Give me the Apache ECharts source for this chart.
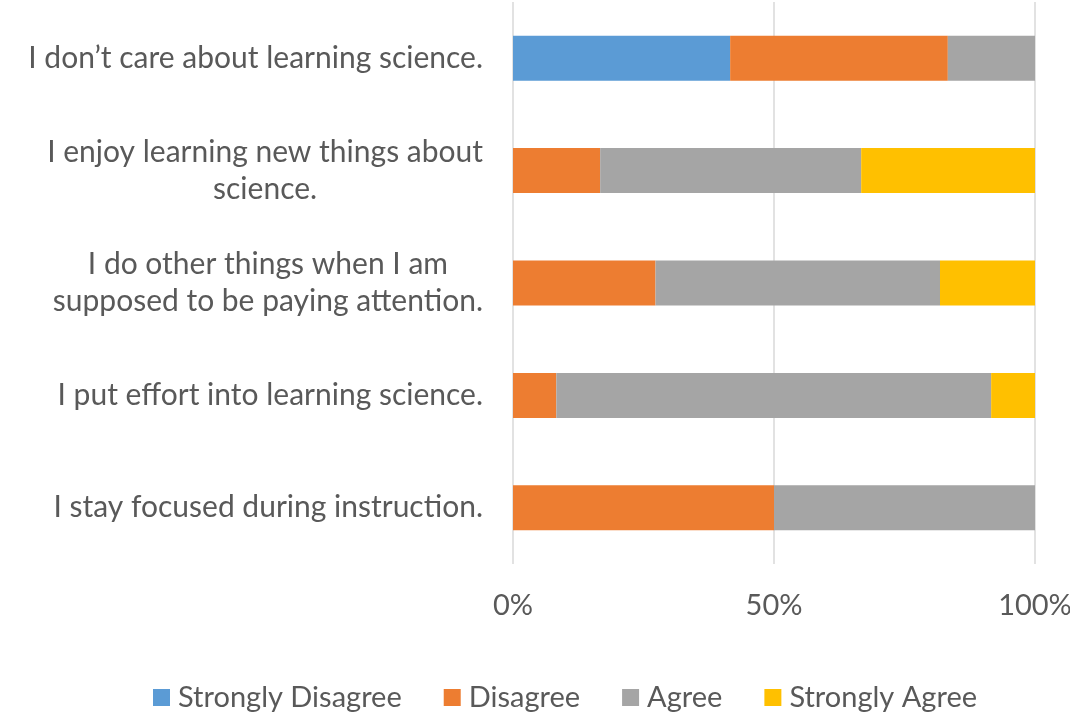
<!DOCTYPE html>
<html lang="en">
<head>
    <meta charset="UTF-8">
    <title>Science attitudes</title>
    <script src="https://cdn.jsdelivr.net/npm/echarts@6/dist/echarts.min.js"></script>
    <style>
        html, body {margin: 0; padding: 0; background: #fff;}
        #main {width: 1070px; height: 714px;}
    </style>
</head>
<body>
<div id="main"></div>
<script>
    // statements, top to bottom
    var statements = [
        'I don\u2019t care about learning science.',
        'I enjoy learning new things about\nscience.',
        'I do other things when I am\nsupposed to be paying attention.',
        'I put effort into learning science.',
        'I stay focused during instruction.'
    ];
    var seriesNames = ['Strongly Disagree', 'Disagree', 'Agree', 'Strongly Agree'];
    // percent of responses
    var stronglyDisagree = [41.6, 0, 0, 0, 0];
    var disagree = [41.7, 16.7, 27.3, 8.3, 50];
    var agree = [16.7, 50, 54.5, 83.3, 50];
    var stronglyAgree = [0, 33.3, 18.2, 8.4, 0];
    var xTicks = [0, 50, 100];

    var colors = ['#5B9BD5', '#ED7D31', '#A5A5A5', '#FFC000'];
    var font = 'Lato, "Open Sans", sans-serif';

    var myChart = echarts.init(document.getElementById('main'));
    var values = [stronglyDisagree, disagree, agree, stronglyAgree];
    var series = seriesNames.map(function (name, i) {
        return {
            name: name,
            type: 'bar',
            stack: 'total',
            barWidth: 45,
            itemStyle: {color: colors[i]},
            data: values[i]
        };
    });

    var option = {
        animation: false,
        color: colors,
        grid: {left: 513, right: 35, top: 2, bottom: 150, containLabel: false, outerBoundsMode: 'none'},
        legend: {
            left: 148,
            top: 678,
            itemWidth: 17,
            itemHeight: 17,
            itemGap: 42,
            icon: 'rect',
            textStyle: {color: '#595959', fontSize: 29, fontFamily: font, padding: [0, 0, 0, 3]},
            data: seriesNames
        },
        xAxis: {
            type: 'value',
            min: xTicks[0],
            max: xTicks[xTicks.length - 1],
            interval: xTicks[1] - xTicks[0],
            axisLine: {show: false},
            axisTick: {show: false},
            splitLine: {lineStyle: {color: '#d9d9d9', width: 1.5}},
            axisLabel: {
                formatter: '{value}%',
                color: '#595959',
                fontSize: 29,
                fontFamily: font,
                margin: 27
            }
        },
        yAxis: {
            type: 'category',
            inverse: true,
            data: statements,
            axisLine: {show: false},
            axisTick: {show: false},
            axisLabel: {
                margin: 30,
                color: '#595959',
                fontSize: 30,
                fontFamily: font,
                lineHeight: 37,
                formatter: function (v) {
                    return v.split('\n').map(function (s) {
                        return '{a|' + s + '}';
                    }).join('\n');
                },
                rich: {
                    a: {align: 'center', color: '#595959', fontSize: 30, fontFamily: font, lineHeight: 37}
                }
            }
        },
        series: series
    };
    myChart.setOption(option);
</script>
</body>
</html>
